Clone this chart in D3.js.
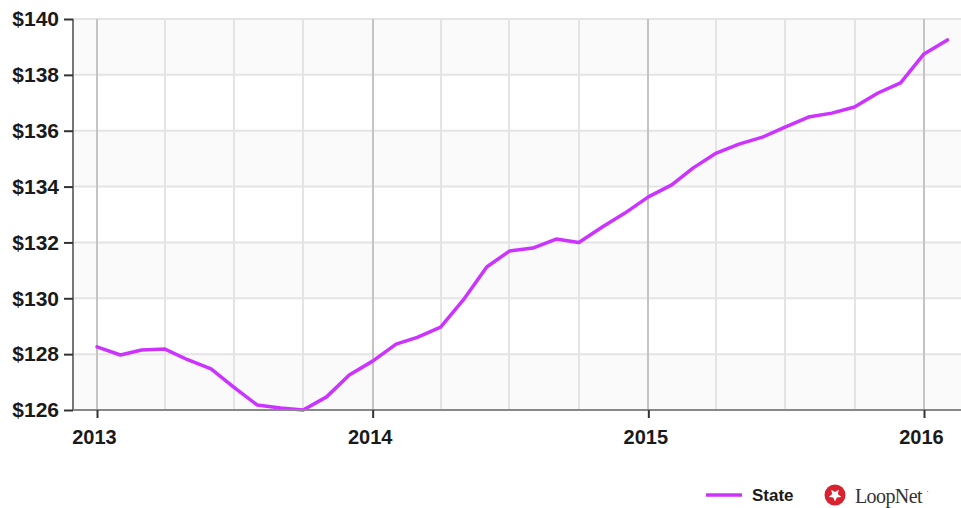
<!DOCTYPE html>
<html>
<head>
<meta charset="utf-8">
<script src="https://d3js.org/d3.v7.min.js"></script>
<style>
  body { margin: 0; background: #fff; }
  svg { display: block; }
</style>
</head>
<body>
<svg width="961" height="508"></svg>
<script>
// Monthly values, Jan 2013 .. Feb 2016
var months = d3.timeMonths(new Date(2013, 0, 1), new Date(2016, 2, 1));
var values = [
  128.26, 127.97, 128.15, 128.18, 127.80, 127.47, 126.82, 126.18, 126.07, 126.00, 126.47, 127.25,
  127.75, 128.36, 128.60, 128.97, 129.94, 131.12, 131.69, 131.80, 132.12, 132.00, 132.55, 133.05,
  133.63, 134.06, 134.66, 135.20, 135.52, 135.77, 136.13, 136.49, 136.63, 136.85, 137.35, 137.71,
  138.75, 139.25
];
var yTicks = [126, 128, 130, 132, 134, 136, 138, 140];
var yearTicks = [2013, 2014, 2015, 2016];
var seriesName = "State";
var lineColor = "#cc33ff";

var svg = d3.select("svg");
var plotL = 73, plotR = 961, plotT = 19, plotB = 410;

// x: anchor Jan 2013 and Jan 2016, then stretch to the plot edges
var x = d3.scaleTime()
    .domain([new Date(2013, 0, 1), new Date(2016, 0, 1)])
    .range([97, 924]);
x.domain([x.invert(plotL), x.invert(plotR)]).range([plotL, plotR]);

var y = d3.scaleLinear().domain([126, 140]).range([plotB, plotT]);

// alternating bands
svg.append("g").selectAll("rect")
  .data(yTicks.slice(0, -1))
  .enter().append("rect")
    .attr("x", plotL)
    .attr("width", plotR - plotL)
    .attr("y", function(d) { return y(d + 2); })
    .attr("height", function(d) { return y(d) - y(d + 2); })
    .attr("fill", function(d, i) { return i % 2 == 0 ? "#fafafa" : "#ffffff"; });

// horizontal grid
svg.append("g").selectAll("line")
  .data(yTicks)
  .enter().append("line")
    .attr("x1", plotL).attr("x2", plotR)
    .attr("y1", function(d) { return y(d); })
    .attr("y2", function(d) { return y(d); })
    .attr("stroke", "#e4e4e4")
    .attr("stroke-width", 2);

// vertical grid: quarters light, years darker
var quarters = d3.timeMonths(new Date(2013, 0, 1), x.domain()[1], 3);
svg.append("g").selectAll("line")
  .data(quarters)
  .enter().append("line")
    .attr("x1", function(d) { return Math.round(x(d)); })
    .attr("x2", function(d) { return Math.round(x(d)); })
    .attr("y1", plotT).attr("y2", plotB)
    .attr("stroke", function(d) { return d.getMonth() == 0 ? "#c4c4c4" : "#e4e4e4"; })
    .attr("stroke-width", 2);

// the line
var line = d3.line()
    .x(function(d, i) { return x(months[i]); })
    .y(function(d) { return y(d); });

svg.append("path")
    .datum(values)
    .attr("fill", "none")
    .attr("stroke", lineColor)
    .attr("stroke-width", 3.5)
    .attr("stroke-linejoin", "round")
    .attr("stroke-linecap", "round")
    .attr("d", line);

// axes
var yAxis = d3.axisLeft(y)
    .tickValues(yTicks)
    .tickSize(9)
    .tickPadding(5)
    .tickFormat(function(d) { return "$" + d; });

var gy = svg.append("g")
    .attr("transform", "translate(" + plotL + ",0)")
    .call(yAxis);
gy.select(".domain").attr("stroke", "#777").attr("stroke-width", 2).attr("d", "M0," + plotT + "V" + plotB);
gy.selectAll(".tick line").attr("stroke", "#333").attr("stroke-width", 2);
gy.selectAll(".tick text")
    .attr("fill", "#1a1a1a")
    .style("font", "bold 21px 'Liberation Sans', Arial, sans-serif");

var xAxis = d3.axisBottom(x)
    .tickValues(yearTicks.map(function(yr) { return new Date(yr, 0, 1); }))
    .tickSize(8)
    .tickPadding(12)
    .tickFormat(d3.timeFormat("%Y"));

var gx = svg.append("g")
    .attr("transform", "translate(0," + plotB + ")")
    .call(xAxis);
gx.select(".domain").attr("stroke", "#888").attr("stroke-width", 2).attr("d", "M" + plotL + ",0H" + plotR);
gx.selectAll(".tick line").attr("stroke", "#333").attr("stroke-width", 2);
gx.selectAll(".tick text")
    .attr("fill", "#1a1a1a")
    .attr("dx", -3)
    .style("font", "bold 20px 'Liberation Sans', Arial, sans-serif");

// legend
var legend = svg.append("g");
legend.append("line")
    .attr("x1", 706).attr("x2", 742)
    .attr("y1", 495).attr("y2", 495)
    .attr("stroke", lineColor)
    .attr("stroke-width", 3.5);
legend.append("text")
    .attr("x", 752).attr("y", 501)
    .attr("fill", "#1a1a1a")
    .style("font", "bold 17px 'Liberation Sans', Arial, sans-serif")
    .text(seriesName);

// LoopNet mark
var logo = svg.append("g").attr("transform", "translate(835,495)");
logo.append("circle").attr("r", 10.5).attr("fill", "#d8222f");
var star = d3.range(10).map(function(i) {
  var a = -Math.PI / 2 + Math.PI / 5 + i * Math.PI / 5, r = i % 2 ? 3 : 6.5;
  return [r * Math.cos(a), r * Math.sin(a)];
});
logo.append("path")
    .attr("d", "M" + star.join("L") + "Z")
    .attr("fill", "#fff");
svg.append("text")
    .attr("x", 855).attr("y", 503)
    .attr("fill", "#333")
    .style("font", "20px 'Liberation Serif', 'Times New Roman', serif")
    .style("letter-spacing", "-0.6px")
    .text("LoopNet");
svg.append("text")
    .attr("x", 926).attr("y", 494)
    .attr("fill", "#555")
    .style("font", "9px 'Liberation Serif', serif")
    .text("·");
</script>
</body>
</html>
